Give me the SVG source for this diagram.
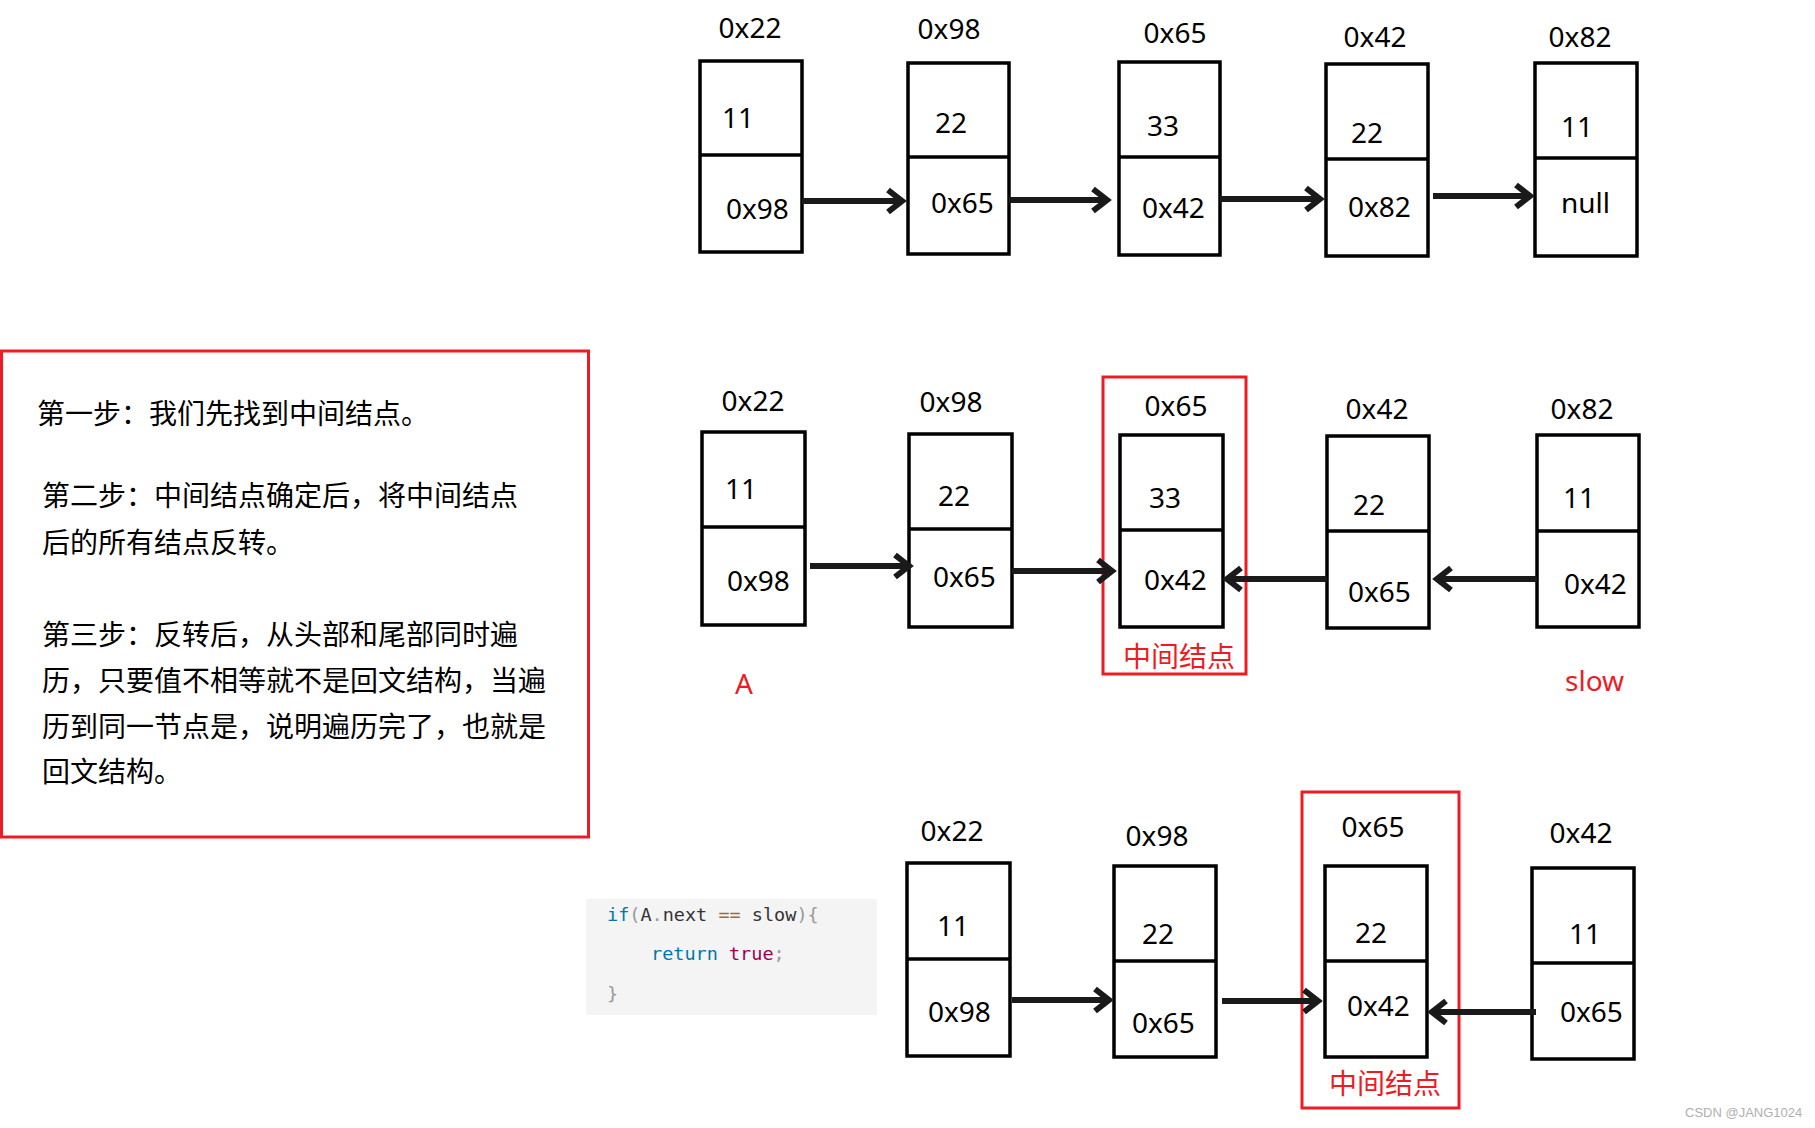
<svg xmlns="http://www.w3.org/2000/svg" width="1815" height="1128" viewBox="0 0 1815 1128">
<style>
.box{fill:#fff;stroke:#000;stroke-width:3.5}
.dv{stroke:#000;stroke-width:3.5}
.t{font-family:"Noto Sans","Noto Sans CJK SC",sans-serif;font-size:28px;fill:#000}
.lb{text-anchor:middle}
.cjk{font-family:"Noto Sans CJK SC",sans-serif;font-size:28px;fill:#000}
.frame{fill:none;stroke:#ed1c24;stroke-width:3}
.arrow{fill:none;stroke:#1a1a1a;stroke-width:6;marker-end:url(#ah)}
.code{font-family:"DejaVu Sans Mono",monospace;font-size:18.5px;fill:#333}
.kw{fill:#0077aa}.pn{fill:#999}.op{fill:#9a6e3a}.bo{fill:#990055}
text.red{fill:#ed1c24}
</style>
<defs>
<marker id="ah" markerUnits="userSpaceOnUse" markerWidth="40" markerHeight="40" viewBox="-20 -20 40 40" refX="0" refY="0" orient="auto" overflow="visible">
<path d="M-14,-11 L0,0 L-14,11" fill="none" stroke="#1a1a1a" stroke-width="6" stroke-linejoin="miter"/>
</marker>
</defs>
<rect width="1815" height="1128" fill="#fff"/>

<g id="explain">
<rect class="frame" x="1.5" y="351" width="587" height="486"/>
<text class="cjk" x="37" y="424">第一步：我们先找到中间结点。</text>
<text class="cjk" x="42" y="506">第二步：中间结点确定后，将中间结点</text>
<text class="cjk" x="42" y="553">后的所有结点反转。</text>
<text class="cjk" x="42" y="645">第三步：反转后，从头部和尾部同时遍</text>
<text class="cjk" x="42" y="691">历，只要值不相等就不是回文结构，当遍</text>
<text class="cjk" x="42" y="737">历到同一节点是，说明遍历完了，也就是</text>
<text class="cjk" x="42" y="782">回文结构。</text>
</g>

<g id="code">
<rect x="586" y="899" width="291" height="116" fill="#f4f4f4"/>
<text class="code" x="607" y="921"><tspan class="kw">if</tspan><tspan class="pn">(</tspan>A<tspan class="pn">.</tspan>next <tspan class="op">==</tspan> slow<tspan class="pn">){</tspan></text>
<text class="code" x="651" y="960"><tspan class="kw">return</tspan> <tspan class="bo">true</tspan><tspan class="pn">;</tspan></text>
<text class="code pn" x="607" y="1000">}</text>
</g>

<!-- Row 1 -->
<g id="r1n1"><rect class="box" x="700" y="61" width="102" height="191"/><line class="dv" x1="700" y1="155" x2="802" y2="155"/>
<text class="t lb" x="750" y="38">0x22</text><text class="t" x="722" y="128">11</text><text class="t" x="726" y="219">0x98</text></g>
<g id="r1n2"><rect class="box" x="908" y="63" width="101" height="191"/><line class="dv" x1="908" y1="157" x2="1009" y2="157"/>
<text class="t lb" x="949" y="39">0x98</text><text class="t" x="935" y="133">22</text><text class="t" x="931" y="213">0x65</text></g>
<g id="r1n3"><rect class="box" x="1119" y="62" width="101" height="193"/><line class="dv" x1="1119" y1="157" x2="1220" y2="157"/>
<text class="t lb" x="1175" y="43">0x65</text><text class="t" x="1147" y="136">33</text><text class="t" x="1142" y="218">0x42</text></g>
<g id="r1n4"><rect class="box" x="1326" y="64" width="102" height="192"/><line class="dv" x1="1326" y1="159" x2="1428" y2="159"/>
<text class="t lb" x="1375" y="47">0x42</text><text class="t" x="1351" y="143">22</text><text class="t" x="1348" y="217">0x82</text></g>
<g id="r1n5"><rect class="box" x="1535" y="63" width="102" height="193"/><line class="dv" x1="1535" y1="158" x2="1637" y2="158"/>
<text class="t lb" x="1580" y="47">0x82</text><text class="t" x="1561" y="137">11</text><text class="t" x="1561" y="213">null</text></g>

<!-- Row 2 -->
<g id="r2n1"><rect class="box" x="702" y="432" width="103" height="193"/><line class="dv" x1="702" y1="527" x2="805" y2="527"/>
<text class="t lb" x="753" y="411">0x22</text><text class="t" x="725" y="499">11</text><text class="t" x="727" y="591">0x98</text></g>
<g id="r2n2"><rect class="box" x="909" y="434" width="103" height="193"/><line class="dv" x1="909" y1="529" x2="1012" y2="529"/>
<text class="t lb" x="951" y="412">0x98</text><text class="t" x="938" y="506">22</text><text class="t" x="933" y="587">0x65</text></g>
<g id="r2n3"><rect class="box" x="1120" y="435" width="103" height="192"/><line class="dv" x1="1120" y1="530" x2="1223" y2="530"/>
<text class="t lb" x="1176" y="416">0x65</text><text class="t" x="1149" y="508">33</text><text class="t" x="1144" y="590">0x42</text></g>
<g id="r2n4"><rect class="box" x="1327" y="436" width="102" height="192"/><line class="dv" x1="1327" y1="531" x2="1429" y2="531"/>
<text class="t lb" x="1377" y="419">0x42</text><text class="t" x="1353" y="515">22</text><text class="t" x="1348" y="602">0x65</text></g>
<g id="r2n5"><rect class="box" x="1537" y="435" width="102" height="192"/><line class="dv" x1="1537" y1="531" x2="1639" y2="531"/>
<text class="t lb" x="1582" y="419">0x82</text><text class="t" x="1563" y="508">11</text><text class="t" x="1564" y="594">0x42</text></g>
<g id="r2mid"><rect class="frame" x="1103" y="377" width="143" height="297"/><text class="cjk red" x="1123" y="667">中间结点</text></g>
<g id="labelA"><text class="t red" x="735" y="694">A</text></g>
<g id="labelSlow"><text class="t red" x="1565" y="691">slow</text></g>

<!-- Row 3 -->
<g id="r3n1"><rect class="box" x="907" y="863" width="103" height="193"/><line class="dv" x1="907" y1="959" x2="1010" y2="959"/>
<text class="t lb" x="952" y="841">0x22</text><text class="t" x="937" y="936">11</text><text class="t" x="928" y="1022">0x98</text></g>
<g id="r3n2"><rect class="box" x="1114" y="866" width="102" height="191"/><line class="dv" x1="1114" y1="961" x2="1216" y2="961"/>
<text class="t lb" x="1157" y="846">0x98</text><text class="t" x="1142" y="944">22</text><text class="t" x="1132" y="1033">0x65</text></g>
<g id="r3n3"><rect class="box" x="1325" y="866" width="102" height="191"/><line class="dv" x1="1325" y1="961" x2="1427" y2="961"/>
<text class="t lb" x="1373" y="837">0x65</text><text class="t" x="1355" y="943">22</text><text class="t" x="1347" y="1016">0x42</text></g>
<g id="r3n4"><rect class="box" x="1532" y="868" width="102" height="191"/><line class="dv" x1="1532" y1="963" x2="1634" y2="963"/>
<text class="t lb" x="1581" y="843">0x42</text><text class="t" x="1569" y="944">11</text><text class="t" x="1560" y="1022">0x65</text></g>
<g id="r3mid"><rect class="frame" x="1302" y="792" width="157" height="316"/><text class="cjk red" x="1329" y="1094">中间结点</text></g>

<g id="connectors">
<path class="arrow" d="M802,201 H902"/>
<path class="arrow" d="M1009,200 H1107"/>
<path class="arrow" d="M1220,199 H1320"/>
<path class="arrow" d="M1433,196 H1530"/>
<path class="arrow" d="M810,566 H909"/>
<path class="arrow" d="M1012,571 H1112"/>
<path class="arrow" d="M1327,579 H1227"/>
<path class="arrow" d="M1537,579 H1437"/>
<path class="arrow" d="M1012,1000 H1109"/>
<path class="arrow" d="M1222,1001 H1318"/>
<path class="arrow" d="M1536,1012 H1432"/>
</g>

<text x="1685" y="1117" font-family="Liberation Sans,sans-serif" font-size="13" fill="#b0b0b0">CSDN @JANG1024</text>
</svg>
